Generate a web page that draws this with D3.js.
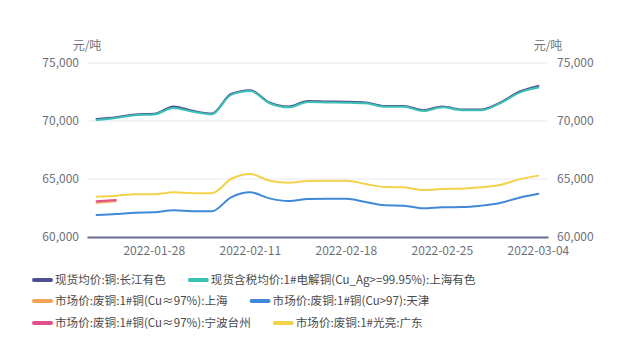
<!DOCTYPE html>
<html>
<head>
<meta charset="utf-8">
<script src="https://cdn.jsdelivr.net/npm/d3@7"></script>
<style>
  html, body { margin: 0; padding: 0; background: #fff; }
  svg { display: block; font-family: "Noto Sans CJK SC", "Noto Sans", sans-serif; }
</style>
</head>
<body>
<svg id="chart" width="617" height="344"></svg>
<script>
// Trading days shown on the category axis
const dates = ["2022-01-25","2022-01-26","2022-01-27","2022-01-28","2022-02-07","2022-02-08",
  "2022-02-09","2022-02-10","2022-02-11","2022-02-14","2022-02-15","2022-02-16","2022-02-17",
  "2022-02-18","2022-02-21","2022-02-22","2022-02-23","2022-02-24","2022-02-25","2022-02-28",
  "2022-03-01","2022-03-02","2022-03-03","2022-03-04"];
const xTickLabels = ["2022-01-28","2022-02-11","2022-02-18","2022-02-25","2022-03-04"];
const yTicks = [60000, 65000, 70000, 75000];

// Series values (元/吨)
const changjiang = [70180,70330,70570,70620,71260,70880,70650,72330,72660,71600,71250,71720,
  71680,71660,71600,71300,71300,70930,71260,71000,71000,71580,72520,73030];
const shanghaiTax = [70080,70250,70500,70560,71120,70800,70580,72250,72580,71530,71180,71630,
  71600,71580,71520,71230,71230,70860,71180,70930,70920,71520,72430,72880];
const scrapShanghai = [62950,63080,null,null,null,null,null,null,null,null,null,null,
  null,null,null,null,null,null,null,null,null,null,null,null];
const scrapTianjin = [61900,61980,62100,62130,62300,62220,62220,63420,63850,63330,63100,63280,
  63300,63300,63020,62730,62700,62470,62560,62580,62700,62930,63390,63730];
const scrapNingbo = [63080,63200,null,null,null,null,null,null,null,null,null,null,
  null,null,null,null,null,null,null,null,null,null,null,null];
const brightGuangdong = [63480,63560,63680,63680,63850,63770,63770,65000,65430,64850,64680,64830,
  64850,64850,64570,64310,64280,64050,64140,64170,64280,64480,64970,65290];

const seriesNames = ["现货均价:铜:长江有色","现货含税均价:1#电解铜(Cu_Ag>=99.95%):上海有色",
  "市场价:废铜:1#铜(Cu≈97%):上海","市场价:废铜:1#铜(Cu>97):天津",
  "市场价:废铜:1#铜(Cu≈97%):宁波台州","市场价:废铜:1#光亮:广东"];
const seriesColors = ["#4f5192","#3cc2b4","#f5a25a","#4189d6","#e2508c","#f3d24c"];
const seriesData = [changjiang, shanghaiTax, scrapShanghai, scrapTianjin, scrapNingbo, brightGuangdong];

const svg = d3.select("#chart");
const plotLeft = 87, plotRight = 548, plotTop = 63, plotBottom = 237;

const x = d3.scaleBand().domain(dates).range([plotLeft, plotRight]).padding(0);
const cx = d => x(d) + x.bandwidth() / 2;
const y = d3.scaleLinear().domain([60000, 75000]).range([plotBottom, plotTop]);

const axisColor = "#6e7079";
const fmt = d3.format(",");

// Horizontal grid lines
svg.append("g").selectAll("line").data(yTicks.filter(t => t > 60000)).join("line")
  .attr("x1", plotLeft).attr("x2", plotRight)
  .attr("y1", d => y(d)).attr("y2", d => y(d))
  .attr("stroke", "#e6e9f2").attr("stroke-width", 1);

// Left value axis
const yLeft = svg.append("g").attr("transform", `translate(${plotLeft},0)`)
  .call(d3.axisLeft(y).tickValues(yTicks).tickFormat(fmt).tickSize(0).tickPadding(8));
yLeft.select(".domain").remove();
yLeft.selectAll("text").attr("fill", axisColor).attr("font-size", 12)
  .attr("font-family", "'Noto Sans CJK SC', sans-serif");

// Right value axis
const yRight = svg.append("g").attr("transform", `translate(${plotRight},0)`)
  .call(d3.axisRight(y).tickValues(yTicks).tickFormat(fmt).tickSize(0).tickPadding(9));
yRight.select(".domain").remove();
yRight.selectAll("text").attr("fill", axisColor).attr("font-size", 12)
  .attr("font-family", "'Noto Sans CJK SC', sans-serif");

// Unit names
[plotLeft, plotRight].forEach(px => {
  svg.append("text").attr("x", px).attr("y", 50).attr("text-anchor", "middle")
    .attr("fill", axisColor).attr("font-size", 12).text("元/吨");
});

// Category axis
const xAxis = svg.append("g").attr("transform", `translate(0,${plotBottom})`)
  .call(d3.axisBottom(x).tickValues(xTickLabels).tickSize(0).tickPadding(9));
xAxis.select(".domain").attr("stroke", "#6b6c94").attr("stroke-width", 2);
xAxis.selectAll("text").attr("fill", axisColor).attr("font-size", 12)
  .attr("font-family", "'Noto Sans CJK SC', sans-serif");

// Series lines
const line = d3.line()
  .defined(d => d.v != null)
  .x(d => cx(d.date))
  .y(d => y(d.v))
  .curve(d3.curveMonotoneX);

seriesData.forEach((vals, i) => {
  const pts = vals.map((v, j) => ({ date: dates[j], v }));
  svg.append("path").datum(pts)
    .attr("d", line)
    .attr("fill", "none")
    .attr("stroke", seriesColors[i])
    .attr("stroke-width", 2)
    .attr("stroke-linejoin", "round")
    .attr("stroke-linecap", "round");
});

// Legend, two entries per row
const legend = svg.append("g");
const rowY = [280, 301, 323];
seriesNames.forEach((name, i) => {
  const row = Math.floor(i / 2);
  const g = legend.append("g").attr("class", "item").attr("data-row", row);
  g.append("line").attr("x1", 0).attr("x2", 17).attr("y1", 0).attr("y2", 0)
    .attr("stroke", seriesColors[i]).attr("stroke-width", 4).attr("stroke-linecap", "round");
  g.append("text").attr("x", 21).attr("y", 0).attr("dy", "0.35em")
    .attr("font-size", 11.6).attr("fill", "#4a4a4a").text(name);
});
const items = legend.selectAll("g.item").nodes();
for (let r = 0; r < 3; r++) {
  let xPos = 34;
  [items[r * 2], items[r * 2 + 1]].forEach(node => {
    const g = d3.select(node);
    g.attr("transform", `translate(${xPos},${rowY[r]})`);
    const w = g.select("text").node().getComputedTextLength();
    xPos += 21 + w + 24;
  });
}
</script>
</body>
</html>
